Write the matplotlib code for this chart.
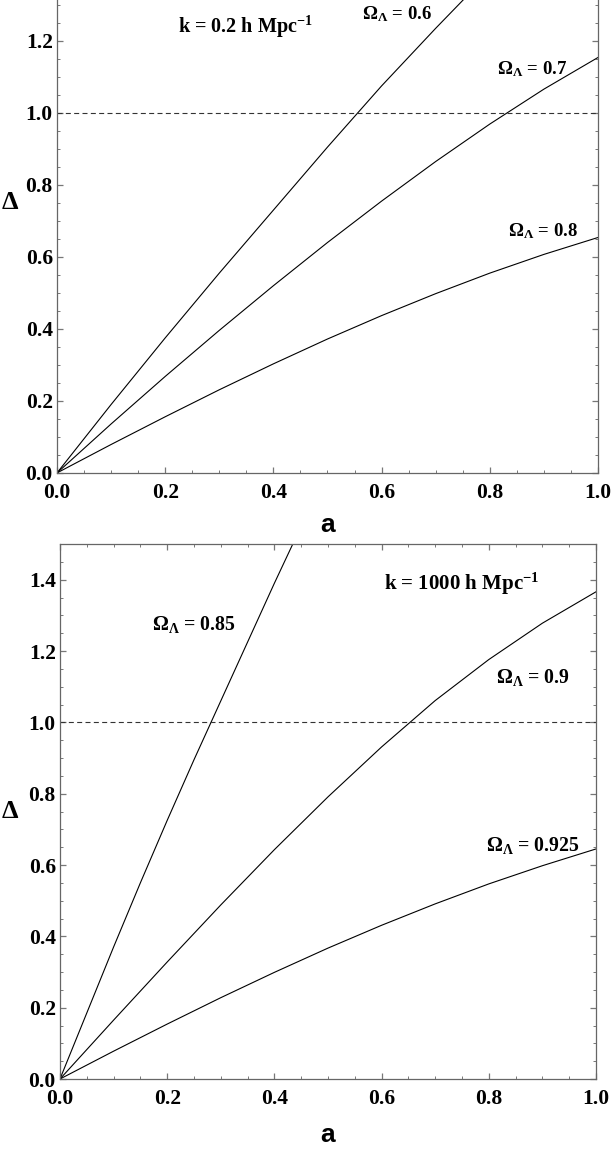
import matplotlib
matplotlib.use('Agg')
import matplotlib.pyplot as plt
from matplotlib.ticker import MultipleLocator, FormatStrFormatter

plt.rcParams['font.family'] = ['Liberation Serif', 'DejaVu Serif']
plt.rcParams['font.weight'] = 'bold'
plt.rcParams['axes.labelweight'] = 'bold'
plt.rcParams['mathtext.fontset'] = 'custom'
plt.rcParams['mathtext.rm'] = 'Liberation Serif:bold'
plt.rcParams['mathtext.it'] = 'Liberation Serif:bold'
plt.rcParams['mathtext.bf'] = 'Liberation Serif:bold'

# values
a_grid = [0.0, 0.1, 0.2, 0.3, 0.4, 0.5, 0.6, 0.7, 0.8, 0.9, 1.0]
a_steep = [0.0, 0.05, 0.1, 0.15, 0.2, 0.25, 0.3, 0.35, 0.4, 0.45]

# k = 0.2 h/Mpc
delta_06 = [0.0, 0.19, 0.375, 0.555, 0.73, 0.905, 1.075, 1.235, 1.39]
delta_07 = [0.0, 0.136, 0.268, 0.396, 0.52, 0.64, 0.755, 0.865, 0.969, 1.066, 1.154]
delta_08 = [0.0, 0.079, 0.156, 0.231, 0.303, 0.372, 0.437, 0.498, 0.555, 0.607, 0.654]

# k = 1000 h/Mpc
delta_085 = [0.0, 0.185, 0.37, 0.55, 0.725, 0.895, 1.06, 1.225, 1.39, 1.55]
delta_09 = [0.0, 0.165, 0.328, 0.488, 0.643, 0.791, 0.931, 1.061, 1.176, 1.278, 1.366]
delta_0925 = [0.0, 0.078, 0.154, 0.228, 0.299, 0.367, 0.431, 0.491, 0.547, 0.598, 0.645]

threshold = 1.0
xticks = [0.0, 0.2, 0.4, 0.6, 0.8, 1.0]
yticks = [0.0, 0.2, 0.4, 0.6, 0.8, 1.0, 1.2, 1.4]


def style_axes(ax):
    ax.set_xlim(0, 1)
    ax.set_ylim(0, 1.5)
    ax.set_xticks(xticks)
    ax.set_yticks(yticks)
    ax.xaxis.set_minor_locator(MultipleLocator(0.05))
    ax.yaxis.set_minor_locator(MultipleLocator(0.05))
    ax.xaxis.set_major_formatter(FormatStrFormatter('%.1f'))
    ax.yaxis.set_major_formatter(FormatStrFormatter('%.1f'))
    ax.tick_params(which='both', direction='in', top=True, right=True,
                   colors='#777777', labelcolor='black', labelsize=15.5)
    ax.tick_params(which='major', length=4.5, width=0.9)
    ax.tick_params(which='minor', length=2.5, width=0.7)
    ax.tick_params(axis='x', pad=7)
    ax.tick_params(axis='y', pad=3)
    for s in ax.spines.values():
        s.set_color('#666666')
        s.set_linewidth(0.9)
    ax.axhline(threshold, color='#333333', lw=0.8, dashes=(4.5, 3))
    ax.set_xlabel('a', family='Liberation Sans', fontsize=19, fontweight='bold', va='center')
    ax.set_ylabel('Δ', fontsize=19, fontweight='bold', rotation=0, va='center', ha='center')


fig = plt.figure(figsize=(6.12, 11.51), dpi=100)
ax1 = fig.add_axes([0.0931, 0.5891, 0.884, 0.4692])
ax2 = fig.add_axes([0.098, 0.06255, 0.8758, 0.4648])

# top panel
ax1.plot(a_grid[:len(delta_06)], delta_06, color='black', lw=0.8)
ax1.plot(a_grid, delta_07, color='black', lw=0.8)
ax1.plot(a_grid, delta_08, color='black', lw=0.8)
style_axes(ax1)
ax1.yaxis.set_label_coords(-0.087, 0.5)
ax1.xaxis.set_label_coords(0.5, -0.096)
ax1.text(0.3475, 1.239, r'k = 0.2 h Mpc$^{-1}$', fontsize=14.5, ha='center', va='center')
ax1.text(0.628, 1.275, r'Ω$_{Λ}$ = 0.6', fontsize=13.5, ha='center', va='center')
ax1.text(0.878, 1.122, r'Ω$_{Λ}$ = 0.7', fontsize=13.5, ha='center', va='center')
ax1.text(0.898, 0.672, r'Ω$_{Λ}$ = 0.8', fontsize=13.5, ha='center', va='center')

# bottom panel
ax2.plot(a_steep, delta_085, color='black', lw=0.8)
ax2.plot(a_grid, delta_09, color='black', lw=0.8)
ax2.plot(a_grid, delta_0925, color='black', lw=0.8)
style_axes(ax2)
ax2.yaxis.set_label_coords(-0.093, 0.5)
ax2.xaxis.set_label_coords(0.5, -0.105)
ax2.text(0.75, 1.389, r'k = 1000 h Mpc$^{-1}$', fontsize=15, ha='center', va='center')
ax2.text(0.25, 1.275, r'Ω$_{Λ}$ = 0.85', fontsize=14.3, ha='center', va='center')
ax2.text(0.882, 1.126, r'Ω$_{Λ}$ = 0.9', fontsize=14.3, ha='center', va='center')
ax2.text(0.881, 0.655, r'Ω$_{Λ}$ = 0.925', fontsize=14.3, ha='center', va='center')

plt.savefig('out.png', dpi=100)
